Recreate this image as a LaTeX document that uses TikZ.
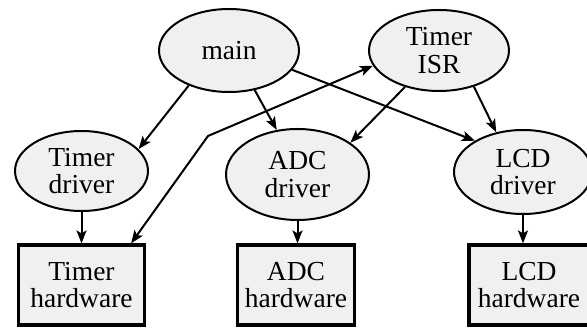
\documentclass[tikz,border=0pt]{standalone}
\usepackage{fontspec}
\setmainfont{Liberation Serif}
\usetikzlibrary{shapes.geometric,arrows.meta}
\definecolor{nodefill}{RGB}{240,240,240}
\begin{document}
\begin{tikzpicture}[x=1pt,y=-1pt,
  lbl/.style={font=\fontsize{27.5}{27.5}\selectfont, align=center},
  oval/.style={lbl, ellipse, draw, line width=2pt, fill=nodefill, inner sep=0pt},
  hwbox/.style={lbl, rectangle, draw, line width=3.2pt, fill=nodefill, inner sep=0pt, minimum height=80pt},
  tip/.style={Stealth[length=13pt,width=10pt,inset=3pt]},
  edge/.style={line width=2pt, -{Stealth[length=13pt,width=10pt,inset=3pt]}},
  biedge/.style={line width=2pt, {Stealth[length=13pt,width=10pt,inset=3pt]}-{Stealth[length=13pt,width=10pt,inset=3pt]}}]
\useasboundingbox (0,0) rectangle (587,328);
% ellipses
\node[oval, minimum width=140pt, minimum height=83pt] (main) at (229,50.5) {main};
\node[oval, minimum width=140pt, minimum height=81pt] (isr) at (439,50.5) {Timer\\ISR};
\node[oval, minimum width=133pt, minimum height=80pt] (timerd) at (81.5,171) {Timer\\driver};
\node[oval, minimum width=143pt, minimum height=91pt] (adcd) at (297.5,174.5) {ADC\\driver};
\node[oval, minimum width=138pt, minimum height=84pt] (lcdd) at (523,172) {LCD\\driver};
% boxes
\node[hwbox, minimum width=126pt] (timerh) at (81.5,285) {Timer\\hardware};
\node[hwbox, minimum width=117pt] (adch) at (296,285) {ADC\\hardware};
\node[hwbox, minimum width=120pt] (lcdh) at (529,285) {LCD\\hardware};
% edges
\draw[edge] (main.221) -- (timerd.21);
\draw[edge] (main.303) -- (adcd.115);
\draw[edge] (main.343) -- (lcdd.147);
\draw[edge] (isr.227) -- (adcd.31);
\draw[edge] (isr.314) -- (lcdd.124);
\coordinate (bend) at (208,136);
\draw[biedge] (timerh.40) -- (bend) -- (isr.193);
\draw[edge] (timerd) -- (timerh);
\draw[edge] (adcd.south) -- (adcd.south |- adch.north);
\draw[edge] (lcdd.south) -- (lcdd.south |- lcdh.north);
\end{tikzpicture}
\end{document}
